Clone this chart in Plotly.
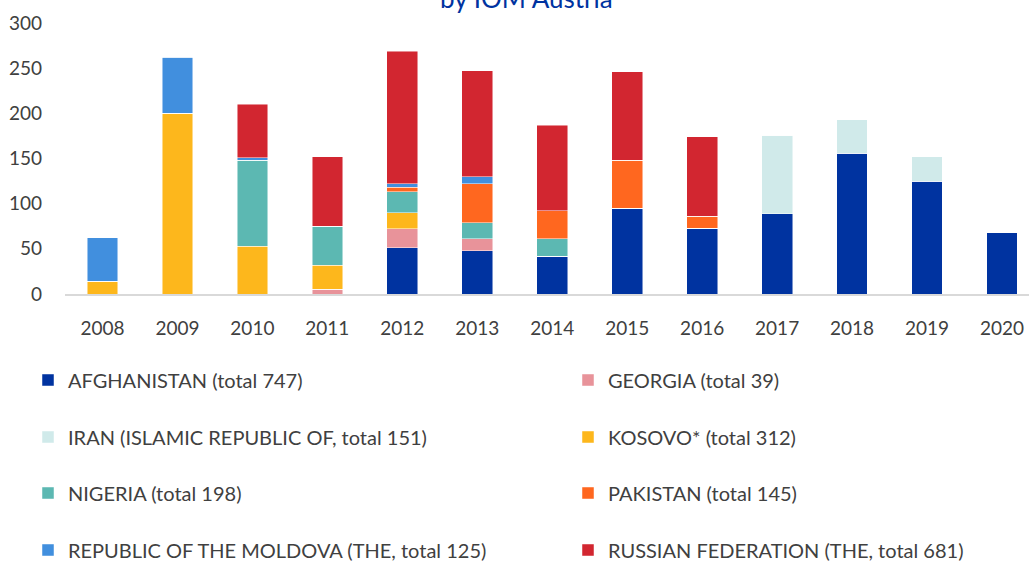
import plotly.graph_objects as go

years = ["2008", "2009", "2010", "2011", "2012", "2013", "2014",
         "2015", "2016", "2017", "2018", "2019", "2020"]

afghanistan = [0, 0, 0, 0, 51, 48, 42, 95, 73, 89, 156, 125, 68]
georgia = [0, 0, 0, 5, 21, 13, 0, 0, 0, 0, 0, 0, 0]
iran = [0, 0, 0, 0, 0, 0, 0, 0, 0, 87, 37, 27, 0]
kosovo = [14, 200, 53, 27, 18, 0, 0, 0, 0, 0, 0, 0, 0]
nigeria = [0, 0, 95, 43, 23, 18, 19, 0, 0, 0, 0, 0, 0]
pakistan = [0, 0, 0, 0, 5, 43, 31, 53, 13, 0, 0, 0, 0]
moldova = [48, 62, 3, 0, 4, 8, 0, 0, 0, 0, 0, 0, 0]
russia = [0, 0, 59, 77, 147, 117, 95, 98, 88, 0, 0, 0, 0]

names = [
    "AFGHANISTAN (total 747)",
    "GEORGIA (total 39)",
    "IRAN (ISLAMIC REPUBLIC OF, total 151)",
    "KOSOVO* (total 312)",
    "NIGERIA (total 198)",
    "PAKISTAN (total 145)",
    "REPUBLIC OF THE MOLDOVA (THE, total 125)",
    "RUSSIAN FEDERATION (THE, total 681)",
]
values = [afghanistan, georgia, iran, kosovo, nigeria, pakistan, moldova, russia]
colors = ["#0033A0", "#E8939A", "#D0EAEA", "#FDB71C",
          "#5CB8B2", "#FF671F", "#418FDE", "#D22630"]

FONT = "Lato, 'Open Sans', sans-serif"
TXT = "#404040"
W_FIG, H_FIG = 1029, 561

fig = go.Figure()
legend_layout = {}
row_y = [380, 437, 493, 550]
col_x = [28, 568]
for i, (name, vals, color) in enumerate(zip(names, values, colors)):
    lg = "legend" if i == 0 else f"legend{i + 1}"
    fig.add_trace(go.Bar(
        x=years, y=vals, name=name, legend=lg, showlegend=True,
        marker=dict(color=color, line=dict(color="rgba(255,255,255,0.6)", width=0.8)),
        width=0.41,
    ))
    legend_layout[lg] = dict(
        xref="container", yref="container",
        x=col_x[i % 2] / W_FIG, y=1 - row_y[i // 2] / H_FIG,
        xanchor="left", yanchor="middle", orientation="h",
        font=dict(family=FONT, size=20, color=TXT),
        bgcolor="rgba(0,0,0,0)",
    )

L, R, T, B = 65, 0, 23, 267
H = H_FIG - T - B
W = W_FIG - L - R


def py(pix):
    return (H_FIG - B - pix) / H


def px(pix):
    return (pix - L) / W


fig.update_layout(
    barmode="stack",
    width=W_FIG, height=H_FIG,
    showlegend=True,
    margin=dict(l=L, r=R, t=T, b=B, autoexpand=False),
    paper_bgcolor="white", plot_bgcolor="white",
    font=dict(family=FONT, color=TXT, size=19),
    **legend_layout,
    xaxis=dict(
        type="category", range=[-0.5, 12.36],
        showline=True, linecolor="#D9D9D9", linewidth=2,
        showgrid=False, ticks="", ticklabelstandoff=16,
        tickfont=dict(family=FONT, size=19, color=TXT),
    ),
    yaxis=dict(
        range=[0, 300], tickvals=[0, 50, 100, 150, 200, 250, 300],
        showgrid=False, zeroline=False, showline=False, ticks="",
        ticklabelstandoff=22,
        tickfont=dict(family=FONT, size=19, color=TXT),
    ),
    annotations=[dict(
        text="by IOM Austria", xref="paper", yref="paper",
        x=px(526), y=py(16), xanchor="center", yanchor="bottom",
        showarrow=False, font=dict(family=FONT, size=26, color="#0033A0"),
    )],
)

fig.write_html("out.html", config={"displayModeBar": False},
               post_script="document.body.style.margin='0';")
